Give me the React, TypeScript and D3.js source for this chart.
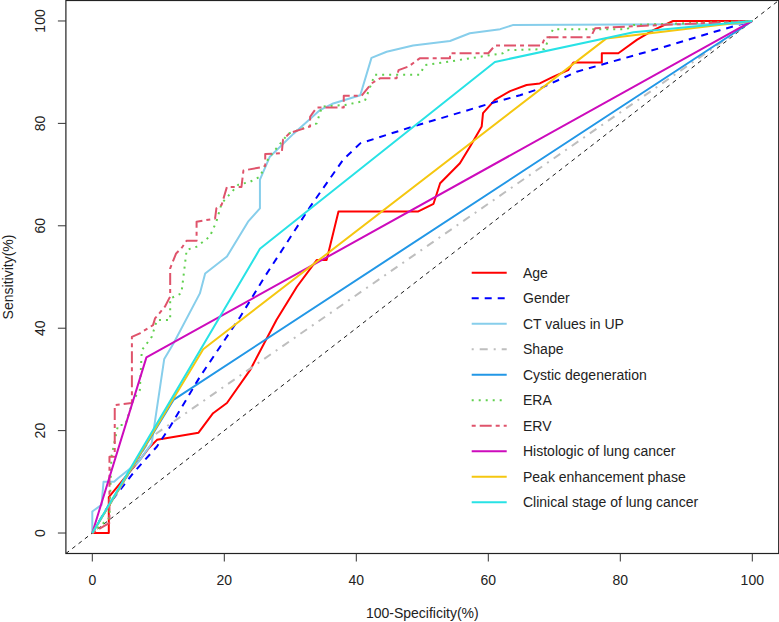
import React from "react";
import * as d3 from "d3";

const W = 779;
const H = 622;

const xTicks = [0, 20, 40, 60, 80, 100];
const yTicks = [0, 20, 40, 60, 80, 100];

const seriesNames = [
  "Age",
  "Gender",
  "CT values in UP",
  "Shape",
  "Cystic degeneration",
  "ERA",
  "ERV",
  "Histologic of lung cancer",
  "Peak enhancement phase",
  "Clinical stage of lung cancer",
];

const ageX = [0, 2.5, 2.5, 5.5, 7.2, 8.5, 9.8, 16.1, 18.3, 20.4, 23.9, 27.9, 31, 34, 35.5, 37.3, 49.4, 51.7, 52.7, 55.7, 57.2, 59, 59.2, 61, 63.3, 65.8, 67.8, 69.8, 72.1, 72.9, 77.2, 77.2, 79.7, 82.5, 85, 88, 100];
const ageY = [0, 0, 7, 11.7, 14.3, 16.5, 18.2, 19.6, 23.4, 25.4, 31.8, 41.6, 48.1, 53.3, 53.3, 62.8, 62.8, 64.3, 68.3, 72.2, 75.4, 79.4, 82, 84.6, 86.3, 87.5, 87.8, 89.1, 90.4, 91.9, 91.9, 93.7, 93.7, 96.3, 98.2, 100, 100];

const genderX = [0, 2.7, 6.2, 9.8, 11.8, 16.3, 22.4, 26.1, 33, 38, 40.6, 48.6, 56.2, 60.3, 64.8, 67.8, 73.4, 86, 95.1, 100];
const genderY = [0, 5.9, 11.7, 16.9, 20.8, 30.5, 42.2, 50, 63.7, 72.9, 76.1, 79.4, 82.3, 83.9, 85.5, 86.8, 90.1, 94.7, 98.2, 100];

const ctX = [0, 0, 1.4, 1.7, 2.2, 3.3, 3.9, 7, 9, 10.9, 12.3, 16.3, 17.1, 20.4, 23.6, 25.4, 25.4, 26.9, 30.5, 34.5, 36.5, 40.6, 42.3, 44.6, 48.6, 54.2, 57.2, 61.8, 63.7, 98, 100];
const ctY = [0, 4.2, 5.5, 10, 10, 10, 10.7, 13.9, 17.5, 34, 37, 46.8, 50.7, 54, 60.8, 63.4, 69, 73.5, 78, 82.6, 83.9, 85.5, 92.8, 94, 95.2, 96.1, 97.6, 98.4, 99.2, 99.4, 100];

const shapeX = [0, 9, 100];
const shapeY = [0, 18.8, 100];

const cysticX = [0, 12.3, 100];
const cysticY = [0, 26, 100];

const eraX = [0, 2.6, 2.9, 3.9, 5, 6.2, 7.2, 7.5, 9, 9.8, 11.8, 11.8, 13.5, 14.3, 15.8, 17.8, 18.8, 19.6, 22.1, 23.9, 25.4, 26.7, 29.7, 34, 34.8, 38.3, 41.3, 42.8, 49.6, 50.4, 54.2, 62.2, 62.8, 68.5, 69.8, 81, 82, 100];
const eraY = [0, 3, 14.9, 21.1, 21.1, 26, 27.9, 35.7, 38.3, 41.6, 41.6, 45.8, 46.8, 55.3, 55.9, 57.9, 60.8, 64.4, 68, 68.6, 69.6, 73.2, 78, 80, 83.3, 83.6, 84.4, 89.5, 89.5, 91.4, 92.1, 93.7, 94.3, 94.5, 98.4, 98.4, 99.2, 100];

const ervX = [0, 2.6, 2.6, 3.4, 3.4, 6, 6, 7.2, 9.2, 9.5, 11, 11.8, 11.8, 12.7, 13.5, 14.3, 15.8, 15.8, 18.6, 18.8, 19.6, 20.1, 20.4, 22.6, 22.9, 25.4, 26.2, 26.2, 28.7, 28.9, 29.9, 33, 33, 34, 38.1, 38.1, 40.8, 42.3, 43.6, 46.1, 46.4, 47.9, 49.6, 54.2, 54.2, 60, 61, 68.1, 68.6, 75.5, 76.2, 86, 100];
const ervY = [0, 2, 14.9, 14.9, 25, 25.4, 38.3, 39, 40.6, 41.9, 44.2, 46.2, 51.7, 54.6, 55.6, 57.1, 57.1, 60.8, 61.4, 63.4, 64.1, 66.3, 67.6, 67.6, 70.8, 71.4, 71.7, 74, 74.2, 76.8, 78.1, 79.4, 81.3, 83.1, 83.1, 85.4, 85.4, 87.8, 88.8, 88.8, 90.4, 91.1, 92.7, 92.7, 93.7, 93.7, 95.2, 95.2, 96.8, 96.8, 98.6, 99.2, 100];

const histX = [0, 8.2, 100];
const histY = [0, 34.3, 100];

const peakX = [0, 16.8, 77.9, 100];
const peakY = [0, 35.9, 96.6, 100];

const clinX = [0, 25.4, 61, 82, 100];
const clinY = [0, 55.5, 92, 97.8, 100];

const seriesX = [ageX, genderX, ctX, shapeX, cysticX, eraX, ervX, histX, peakX, clinX];
const seriesY = [ageY, genderY, ctY, shapeY, cysticY, eraY, ervY, histY, peakY, clinY];

const colors = ["#FF0000", "#0000FF", "#87CEEB", "#BEBEBE", "#2297E6", "#61D04F", "#DF536B", "#CD0BBC", "#F5C710", "#28E2E5"];
const dashes = ["", "7,6", "", "2,6,8,6", "", "2,5", "4,4,12,4", "", "", ""];

export default function App() {
  const left = 65.9, right = 778.7, top = 0.5, bottom = 553.5;
  const x = d3.scaleLinear().domain([-4, 104]).range([left, right]);
  const y = d3.scaleLinear().domain([-4, 104]).range([bottom, top]);
  const line = d3.line<[number, number]>().x((d) => x(d[0])).y((d) => y(d[1]));
  const font = "'Liberation Sans', Arial, sans-serif";
  const fs = 14;

  const legendX1 = 471.7, legendX2 = 506.7, legendTextX = 523, legendY0 = 272.7, legendDY = 25.5;

  return (
    <svg width={W} height={H} style={{ position: "absolute", left: 0, top: 0, background: "#fff" }} fontFamily={font}>
      <defs>
        <clipPath id="plotclip">
          <rect x={left} y={top} width={right - left} height={bottom - top} />
        </clipPath>
      </defs>
      <rect x={0} y={0} width={W} height={H} fill="#fff" />
      <g clipPath="url(#plotclip)">
        <path d={line([[-4, -4], [104, 104]]) || ""} stroke="#000" strokeWidth={0.9} strokeDasharray="4,4" fill="none" />
        {seriesNames.map((name, i) => {
          const pts: [number, number][] = seriesX[i].map((v, j) => [v, seriesY[i][j]]);
          return (
            <path key={name} d={line(pts) || ""} stroke={colors[i]} strokeWidth={2} strokeDasharray={dashes[i] || undefined} fill="none" strokeLinejoin="round" />
          );
        })}
      </g>
      <rect x={left} y={top} width={right - left} height={bottom - top} fill="none" stroke="#222" strokeWidth={1.2} />
      {xTicks.map((t) => (
        <g key={"x" + t}>
          <line x1={x(t)} x2={x(t)} y1={bottom} y2={bottom + 8} stroke="#333" strokeWidth={1} />
          <text x={x(t)} y={585} textAnchor="middle" fontSize={fs} fill="#222">{t}</text>
        </g>
      ))}
      {yTicks.map((t) => (
        <g key={"y" + t}>
          <line x1={left} x2={left - 8} y1={y(t)} y2={y(t)} stroke="#333" strokeWidth={1} />
          <text transform={`translate(45,${y(t)}) rotate(-90)`} textAnchor="middle" fontSize={fs} fill="#222">{t}</text>
        </g>
      ))}
      <text x={(x(0) + x(100)) / 2} y={618} textAnchor="middle" fontSize={fs} fill="#222">100-Specificity(%)</text>
      <text transform={`translate(12.7,${(y(0) + y(100)) / 2}) rotate(-90)`} textAnchor="middle" fontSize={fs} fill="#222">Sensitivity(%)</text>
      {seriesNames.map((name, i) => {
        const ly = legendY0 + i * legendDY;
        return (
          <g key={"lg" + name}>
            <line x1={legendX1} x2={legendX2} y1={ly} y2={ly} stroke={colors[i]} strokeWidth={2} strokeDasharray={dashes[i] || undefined} />
            <text x={legendTextX} y={ly} dy="0.35em" fontSize={fs} fill="#222">{name}</text>
          </g>
        );
      })}
    </svg>
  );
}
